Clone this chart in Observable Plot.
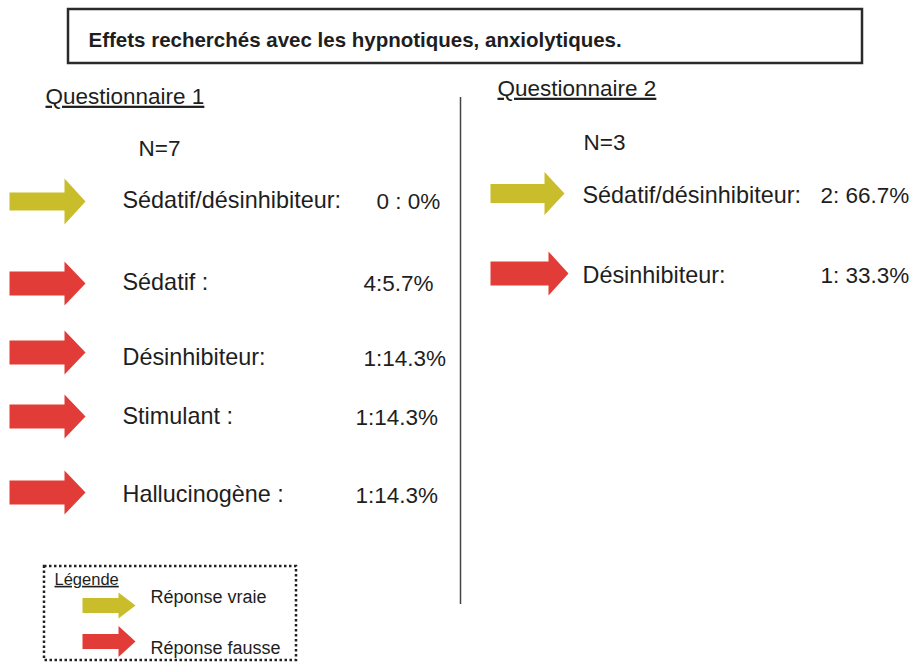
<!DOCTYPE html>
<html>
<head>
<meta charset="utf-8">
<script src="https://cdn.jsdelivr.net/npm/d3@7"></script>
<script src="https://cdn.jsdelivr.net/npm/@observablehq/plot@0.6"></script>
<style>
  html, body { margin: 0; padding: 0; background: #fff; }
  #chart svg { display: block; }
</style>
</head>
<body>
<div id="chart"></div>
<script>
// ---- Data ----
const title = "Effets recherchés avec les hypnotiques, anxiolytiques.";
const q1Title = "Questionnaire 1";
const q2Title = "Questionnaire 2";
const q1N = "N=7";
const q2N = "N=3";
const q1Labels = ["Sédatif/désinhibiteur:", "Sédatif :", "Désinhibiteur:", "Stimulant :", "Hallucinogène :"];
const q1Values = ["0 : 0%", "4:5.7%", "1:14.3%", "1:14.3%", "1:14.3%"];
const q1True = [true, false, false, false, false];
const q2Labels = ["Sédatif/désinhibiteur:", "Désinhibiteur:"];
const q2Values = ["2: 66.7%", "1: 33.3%"];
const q2True = [true, false];
const legendTitle = "Légende";
const legendLabels = ["Réponse vraie", "Réponse fausse"];
const legendTrue = [true, false];

// ---- Layout (positions & styles) ----
const W = 919, H = 663;
const TRUE_COLOR = "#c9bd2b";
const FALSE_COLOR = "#e13c37";
const INK = "#1e1e1e";
const font = "Liberation Sans, Arial, Helvetica, sans-serif";

const q1TextY = [200, 282, 357, 416, 494];
const q1ArrowY = [201, 283, 352, 416, 492];
const q1ValueX = [376, 363, 363, 355, 355];
const q2TextY = [195, 275];
const q2ArrowY = [193, 273];
const q2ValueX = [820, 820];
const legendTextY = [597, 648];
const legendArrowY = [605, 641];

function arrowPts(id, left, cy, len, headLen, shaftHalf, headHalf, color) {
  const hx = left + len - headLen;
  const tip = left + len;
  return [
    [left, cy - shaftHalf], [hx, cy - shaftHalf], [hx, cy - headHalf], [tip, cy],
    [hx, cy + headHalf], [hx, cy + shaftHalf], [left, cy + shaftHalf], [left, cy - shaftHalf]
  ].map(([x, y]) => ({id, x, y, color}));
}

const arrows = [];
q1True.forEach((t, i) => arrows.push(...arrowPts("q1-" + i, 9, q1ArrowY[i], 76, 21, t ? 9 : 12, t ? 23 : 22, t ? TRUE_COLOR : FALSE_COLOR)));
q2True.forEach((t, i) => arrows.push(...arrowPts("q2-" + i, 490, q2ArrowY[i], t ? 74 : 78, 20, t ? 9.5 : 12, t ? 21.5 : 22, t ? TRUE_COLOR : FALSE_COLOR)));
legendTrue.forEach((t, i) => arrows.push(...arrowPts("lg-" + i, 82, legendArrowY[i], 53, 17, 7.5, t ? 13 : 15.5, t ? TRUE_COLOR : FALSE_COLOR)));

const labelRows = [
  ...q1Labels.map((s, i) => ({x: 122, y: q1TextY[i], text: s})),
  ...q2Labels.map((s, i) => ({x: 582, y: q2TextY[i], text: s}))
];
const valueRows = [
  ...q1Values.map((s, i) => ({x: q1ValueX[i], y: q1TextY[i] + 1, text: s})),
  ...q2Values.map((s, i) => ({x: q2ValueX[i], y: q2TextY[i], text: s})),
  {x: 138, y: 148, text: q1N},
  {x: 583, y: 142, text: q2N}
];
const legendRows = legendLabels.map((s, i) => ({x: 150, y: legendTextY[i], text: s}));
const underlined = [q1Title, q2Title, legendTitle];

const chart = Plot.plot({
  width: W,
  height: H,
  margin: 0,
  x: {domain: [0, W], range: [0, W], axis: null},
  y: {domain: [0, H], range: [0, H], axis: null},
  color: {type: "identity"},
  style: {fontFamily: font, background: "#fff", color: INK},
  marks: [
    // title box
    Plot.rect([{x1: 68, x2: 862, y1: 9, y2: 63}], {x1: "x1", x2: "x2", y1: "y1", y2: "y2", fill: "none", stroke: "#2a2a2a", strokeWidth: 2.5}),
    Plot.text([title], {x: 88, y: 40, text: d => d, textAnchor: "start", fontSize: 20.5, fontWeight: "bold", fill: INK}),
    // section headings
    Plot.text([{x: 45, y: 96, text: q1Title}, {x: 497, y: 88, text: q2Title}], {x: "x", y: "y", text: "text", textAnchor: "start", fontSize: 22.5, fill: INK}),
    // divider
    Plot.ruleX([460], {y1: 97, y2: 604, stroke: "#444", strokeWidth: 1.5}),
    // arrows
    Plot.line(arrows, {x: "x", y: "y", z: "id", fill: "color", stroke: null, curve: "linear"}),
    // labels and values
    Plot.text(labelRows, {x: "x", y: "y", text: "text", textAnchor: "start", fontSize: 23.4, fill: INK}),
    Plot.text(valueRows, {x: "x", y: "y", text: "text", textAnchor: "start", fontSize: 22.5, fill: INK}),
    // legend
    Plot.rect([{x1: 44, x2: 296, y1: 566, y2: 660}], {x1: "x1", x2: "x2", y1: "y1", y2: "y2", fill: "none", stroke: "#222", strokeWidth: 2.5, strokeDasharray: "2.5,2.5"}),
    Plot.text([legendTitle], {x: 54, y: 579, text: d => d, textAnchor: "start", fontSize: 16.5, fill: INK}),
    Plot.text(legendRows, {x: "x", y: "y", text: "text", textAnchor: "start", fontSize: 18, fill: INK})
  ]
});

d3.select(chart).selectAll("text")
  .filter(function() { return underlined.includes(this.textContent); })
  .attr("text-decoration", "underline");
document.getElementById("chart").appendChild(chart);
</script>
</body>
</html>
